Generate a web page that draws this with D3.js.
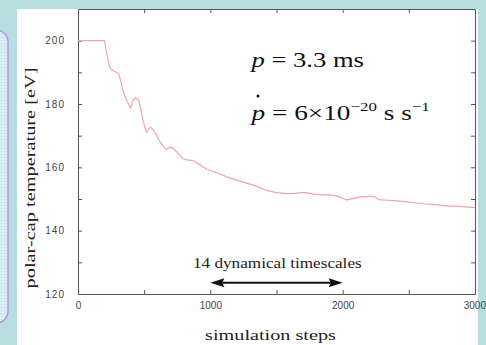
<!DOCTYPE html>
<html>
<head>
<meta charset="utf-8">
<script src="https://cdn.jsdelivr.net/npm/d3@7"></script>
<style>
  html, body { margin: 0; padding: 0; background: #b8dfe0; }
  svg { display: block; }
</style>
</head>
<body>
<div id="chart"></div>
<script>
// ---- data ----
const steps = [0,200,215,240,265,290,307,325,340,370,398,415,433,450,461,490,516,535,549,565,584,620,667,690,713,748,794,830,869,920,977,1050,1150,1275,1350,1426,1500,1577,1640,1703,1770,1829,1900,1955,2030,2080,2131,2200,2232,2282,2350,2408,2500,2610,2700,2786,2900,3000];
const temperature = [200,200,196.5,191.5,190.5,190,189.6,187,184,181,178.6,181,182,181.5,181,175,171,172,172.7,172,171,168,165.6,166.3,166.2,164.8,162.7,162.3,162.2,160.8,159.3,158.3,156.6,155,154,152.7,152,151.7,151.8,152.1,151.6,151.3,151.3,151,149.7,150.2,150.6,150.8,150.8,149.7,149.6,149.4,149,148.5,148.2,147.8,147.6,147.3];
const yTicks = [120,140,160,180,200];
const yMinorTicks = [130,150,170,190];
const xTicks = [0,1000,2000,3000];
const xMinorTicks = [500,1500,2500];
const arrowSpan = [1000,2000];
const arrowLevel = 125;

const W = 486, H = 345;
const svg = d3.select("#chart").append("svg").attr("width", W).attr("height", H);

// background
svg.append("rect").attr("width", W).attr("height", H).attr("fill", "#b8dfe0");
const defs = svg.append("defs");
const pat = defs.append("pattern").attr("id","dots").attr("width",3).attr("height",3).attr("patternUnits","userSpaceOnUse");
pat.append("rect").attr("width",3).attr("height",3).attr("fill","#dcedf3");
pat.append("circle").attr("cx",1.5).attr("cy",1.5).attr("r",0.6).attr("fill","#b9d3e6");
svg.append("rect").attr("x",-20).attr("y",30).attr("width",28).attr("height",293).attr("rx",12)
  .attr("fill","url(#dots)").attr("stroke","#b690ee").attr("stroke-width",1.5);
svg.append("rect").attr("x",17).attr("y",9).attr("width",461).attr("height",H-9).attr("fill","#ffffff");

const x = d3.scaleLinear().domain([0,3000]).range([78,475]);
const y = d3.scaleLinear().domain([120,210]).range([294,9]);

const axisColor = "#555";
function styleAxis(g){
  g.selectAll(".domain").attr("stroke", axisColor).attr("stroke-width",1);
  g.selectAll(".tick line").attr("stroke", axisColor);
  g.selectAll("text").attr("fill","#444").attr("font-family","Liberation Sans, Arial, sans-serif").attr("font-size",10);
}

// left axis
const gl = svg.append("g").attr("transform",`translate(${x(0)},0)`)
  .call(d3.axisLeft(y).tickValues(yTicks).tickFormat(d3.format("d")).tickSizeInner(-4).tickSizeOuter(0).tickPadding(13));
styleAxis(gl);
gl.selectAll("text").attr("letter-spacing","1px");
gl.selectAll(".tick").filter(d=>d===120).select("line").remove();
const glm = svg.append("g").attr("transform",`translate(${x(0)},0)`)
  .call(d3.axisLeft(y).tickValues(yMinorTicks).tickSizeInner(-4).tickSizeOuter(0).tickFormat(""));
styleAxis(glm); glm.select(".domain").remove();

// right axis
const gr = svg.append("g").attr("transform",`translate(${x(3000)},0)`)
  .call(d3.axisRight(y).tickValues(yTicks.concat(yMinorTicks)).tickSizeInner(-4).tickSizeOuter(0).tickFormat(""));
styleAxis(gr);

// bottom axis
const gb = svg.append("g").attr("transform",`translate(0,${y(120)})`)
  .call(d3.axisBottom(x).tickValues(xTicks).tickFormat(d3.format("d")).tickSizeInner(-4).tickSizeOuter(0).tickPadding(8));
styleAxis(gb);
gb.selectAll(".tick").filter(d=>d===3000).select("text").attr("text-anchor","end").attr("dx","10.5");
gb.selectAll(".tick").filter(d=>d===0||d===3000).select("line").remove();
const gbm = svg.append("g").attr("transform",`translate(0,${y(120)})`)
  .call(d3.axisBottom(x).tickValues(xMinorTicks).tickSizeInner(-4).tickSizeOuter(0).tickFormat(""));
styleAxis(gbm); gbm.select(".domain").remove();

// top axis
const gt = svg.append("g").attr("transform",`translate(0,${y(210)})`)
  .call(d3.axisTop(x).tickValues(xTicks.concat(xMinorTicks).filter(d=>d>0&&d<3000)).tickSizeInner(-4).tickSizeOuter(0).tickFormat(""));
styleAxis(gt);

// data line
const line = d3.line().x((d,i)=>x(steps[i])).y(d=>y(d));
svg.append("path").datum(temperature).attr("d", line)
  .attr("fill","none").attr("stroke","#f2a3ab").attr("stroke-width",1.2).attr("stroke-linejoin","round");

// helper: stretch text horizontally to a target width
function fit(g, target){
  const w = g.node().getBBox().width;
  return target / w;
}
const serif = "Liberation Serif, Times New Roman, serif";

// y label
const yl = svg.append("text").attr("font-family",serif).attr("font-size",14).attr("fill","#222")
  .attr("text-anchor","middle").text("polar-cap temperature [eV]");
let s = fit(yl, 221);
yl.attr("transform",`translate(35,178) rotate(-90) scale(${s},1)`);

// x label
const xl = svg.append("text").attr("font-family",serif).attr("font-size",14).attr("fill","#222")
  .attr("text-anchor","middle").text("simulation steps");
s = fit(xl, 131);
xl.attr("transform",`translate(270.5,340) scale(${s},1)`);

// arrow annotation
const ay = y(arrowLevel) + 4.5;
svg.append("line").attr("x1",x(arrowSpan[0])+12).attr("x2",x(arrowSpan[1])-12)
  .attr("y1",ay).attr("y2",ay).attr("stroke","#111").attr("stroke-width",2);
const ah = (tipX, dir) => `M${tipX},${ay} L${tipX+dir*14},${ay-4.5} L${tipX+dir*12},${ay} L${tipX+dir*14},${ay+4.5} Z`;
svg.append("path").attr("d", ah(x(arrowSpan[0]),1)).attr("fill","#111");
svg.append("path").attr("d", ah(x(arrowSpan[1]),-1)).attr("fill","#111");
const at = svg.append("text").attr("font-family",serif).attr("font-size",15).attr("fill","#222")
  .text("14 dynamical timescales");
s = fit(at, 169);
at.attr("transform",`translate(193,268) scale(${s},1)`);

// p annotation
const l1 = svg.append("text").attr("font-family",serif).attr("font-size",21).attr("fill","#111");
l1.append("tspan").attr("font-style","italic").text("p");
l1.append("tspan").text(" = 3.3 ms");
s = fit(l1, 115);
l1.attr("transform",`translate(251.5,66.5) scale(${s},1)`);

svg.append("circle").attr("cx",258).attr("cy",96).attr("r",1.5).attr("fill","#111");
const l2 = svg.append("text").attr("font-family",serif).attr("font-size",21).attr("fill","#111");
l2.append("tspan").attr("font-style","italic").text("p");
l2.append("tspan").text(" = 6×10");
l2.append("tspan").attr("font-size",13).attr("dy",-9).text("\u221220");
l2.append("tspan").attr("dy",9).text("  s s");
l2.append("tspan").attr("font-size",13).attr("dy",-9).text("\u22121");
s = fit(l2, 181);
l2.attr("transform",`translate(251.5,120) scale(${s},1)`);
</script>
</body>
</html>
